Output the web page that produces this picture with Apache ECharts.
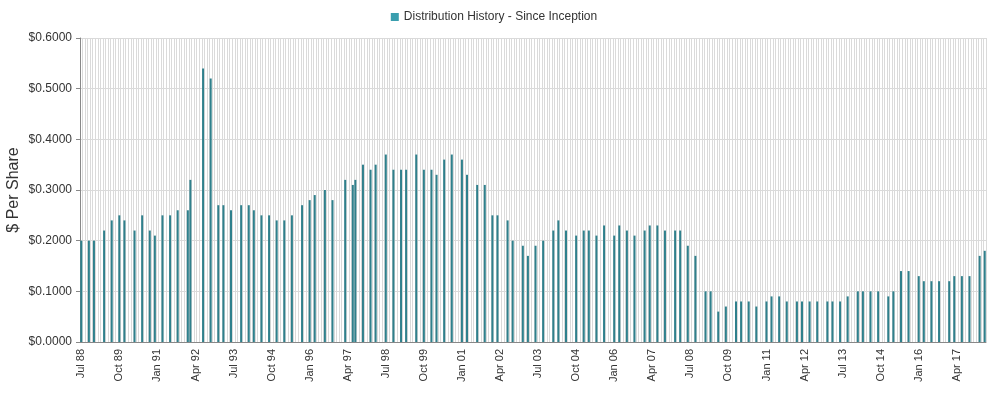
<!DOCTYPE html>
<html>
<head>
<meta charset="utf-8">
<title>Distribution History</title>
<script src="https://cdn.jsdelivr.net/npm/echarts@6/dist/echarts.min.js"></script>
<style>
  html, body { margin: 0; padding: 0; background: #fff; }
  #chart { width: 988px; height: 398px; }
</style>
</head>
<body>
<div id="chart"></div>
<script>
// distribution months and amounts ($ per share)
var payDates = [
  'Jul 88', 'Oct 88', 'Dec 88', 'Apr 89', 'Jul 89', 'Oct 89', 'Dec 89', 'Apr 90',
  'Jul 90', 'Oct 90', 'Dec 90', 'Mar 91', 'Jun 91', 'Sep 91', 'Jan 92', 'Feb 92',
  'Jul 92', 'Oct 92', 'Jan 93', 'Mar 93', 'Jun 93', 'Oct 93', 'Jan 94', 'Mar 94',
  'Jun 94', 'Sep 94', 'Dec 94', 'Mar 95', 'Jun 95', 'Oct 95', 'Jan 96', 'Mar 96',
  'Jul 96', 'Oct 96', 'Mar 97', 'Jun 97', 'Jul 97', 'Oct 97', 'Jan 98', 'Mar 98',
  'Jul 98', 'Oct 98', 'Jan 99', 'Mar 99', 'Jul 99', 'Oct 99', 'Jan 00', 'Mar 00',
  'Jun 00', 'Sep 00', 'Jan 01', 'Mar 01', 'Jul 01', 'Oct 01', 'Jan 02', 'Mar 02',
  'Jul 02', 'Sep 02', 'Jan 03', 'Mar 03', 'Jun 03', 'Sep 03', 'Jan 04', 'Mar 04',
  'Jun 04', 'Oct 04', 'Jan 05', 'Mar 05', 'Jun 05', 'Sep 05', 'Jan 06', 'Mar 06',
  'Jun 06', 'Sep 06', 'Jan 07', 'Mar 07', 'Jun 07', 'Sep 07', 'Jan 08', 'Mar 08',
  'Jun 08', 'Sep 08', 'Jan 09', 'Mar 09', 'Jun 09', 'Sep 09', 'Jan 10', 'Mar 10',
  'Jun 10', 'Sep 10', 'Jan 11', 'Mar 11', 'Jun 11', 'Sep 11', 'Jan 12', 'Mar 12',
  'Jun 12', 'Sep 12', 'Jan 13', 'Mar 13', 'Jun 13', 'Sep 13', 'Jan 14', 'Mar 14',
  'Jun 14', 'Sep 14', 'Jan 15', 'Mar 15', 'Jun 15', 'Sep 15', 'Jan 16', 'Mar 16',
  'Jun 16', 'Sep 16', 'Jan 17', 'Mar 17', 'Jun 17', 'Sep 17', 'Jan 18', 'Mar 18'
]
var payAmounts = [
  0.20, 0.20, 0.20, 0.22, 0.24, 0.25, 0.24, 0.22,
  0.25, 0.22, 0.21, 0.25, 0.25, 0.26, 0.26, 0.32,
  0.54, 0.52, 0.27, 0.27, 0.26, 0.27, 0.27, 0.26,
  0.25, 0.25, 0.24, 0.24, 0.25, 0.27, 0.28, 0.29,
  0.30, 0.28, 0.32, 0.31, 0.32, 0.35, 0.34, 0.35,
  0.37, 0.34, 0.34, 0.34, 0.37, 0.34, 0.34, 0.33,
  0.36, 0.37, 0.36, 0.33, 0.31, 0.31, 0.25, 0.25,
  0.24, 0.20, 0.19, 0.17, 0.19, 0.20, 0.22, 0.24,
  0.22, 0.21, 0.22, 0.22, 0.21, 0.23, 0.21, 0.23,
  0.22, 0.21, 0.22, 0.23, 0.23, 0.22, 0.22, 0.22,
  0.19, 0.17, 0.10, 0.10, 0.06, 0.07, 0.08, 0.08,
  0.08, 0.07, 0.08, 0.09, 0.09, 0.08, 0.08, 0.08,
  0.08, 0.08, 0.08, 0.08, 0.08, 0.09, 0.10, 0.10,
  0.10, 0.10, 0.09, 0.10, 0.14, 0.14, 0.13, 0.12,
  0.12, 0.12, 0.12, 0.13, 0.13, 0.13, 0.17, 0.18
]
var monthNames = ['Jan', 'Feb', 'Mar', 'Apr', 'May', 'Jun', 'Jul', 'Aug', 'Sep', 'Oct', 'Nov', 'Dec']
var seriesName = 'Distribution History - Since Inception'

// monthly category axis, Jul 88 .. Mar 18
var months = []
var y = 1988
var m = 6
while (!(y === 2018 && m === 3)) {
  months.push(monthNames[m] + ' ' + String(y).slice(2))
  m++
  if (m === 12) { m = 0; y++ }
}

var amountByMonth = {}
payDates.forEach(function (d, i) { amountByMonth[d] = payAmounts[i] })
var barData = months.map(function (d) {
  return amountByMonth[d] === undefined ? '-' : amountByMonth[d]
})

var chart = echarts.init(document.getElementById('chart'))
chart.setOption({
  animation: false,
  textStyle: { fontFamily: 'Liberation Sans, Arial, sans-serif' },
  legend: {
    top: 6,
    left: 'center',
    icon: 'rect',
    itemWidth: 8,
    itemHeight: 8,
    itemGap: 10,
    textStyle: { fontSize: 12, color: '#333' },
    data: [{ name: seriesName, itemStyle: { color: '#3a9eae' } }]
  },
  grid: {
    left: 80,
    right: 2,
    top: 38,
    bottom: 56,
    outerBoundsMode: 'none'
  },
  xAxis: {
    type: 'category',
    data: months,
    boundaryGap: true,
    axisLine: { lineStyle: { color: '#888' } },
    axisTick: { interval: 0, length: 4, lineStyle: { color: '#888' } },
    axisLabel: {
      interval: 14,
      rotate: 90,
      margin: 7,
      fontSize: 11,
      color: '#333'
    },
    splitLine: { show: true, interval: 0, lineStyle: { color: '#dadada' } }
  },
  yAxis: {
    type: 'value',
    min: 0,
    max: 0.6,
    interval: 0.1,
    name: '$ Per Share',
    nameLocation: 'middle',
    nameGap: 58,
    nameMoveOverlap: false,
    nameTextStyle: { fontSize: 16, color: '#333' },
    axisLine: { show: true, lineStyle: { color: '#888' } },
    axisTick: { show: true, length: 4, lineStyle: { color: '#888' } },
    axisLabel: {
      margin: 8,
      fontSize: 12,
      color: '#333',
      formatter: function (v) { return '$' + v.toFixed(4) }
    },
    splitLine: { lineStyle: { color: '#dadada' } }
  },
  series: [
    {
      name: seriesName,
      type: 'bar',
      data: barData,
      barWidth: 2,
      itemStyle: { color: '#2f808c' }
    }
  ]
})
</script>
</body>
</html>
